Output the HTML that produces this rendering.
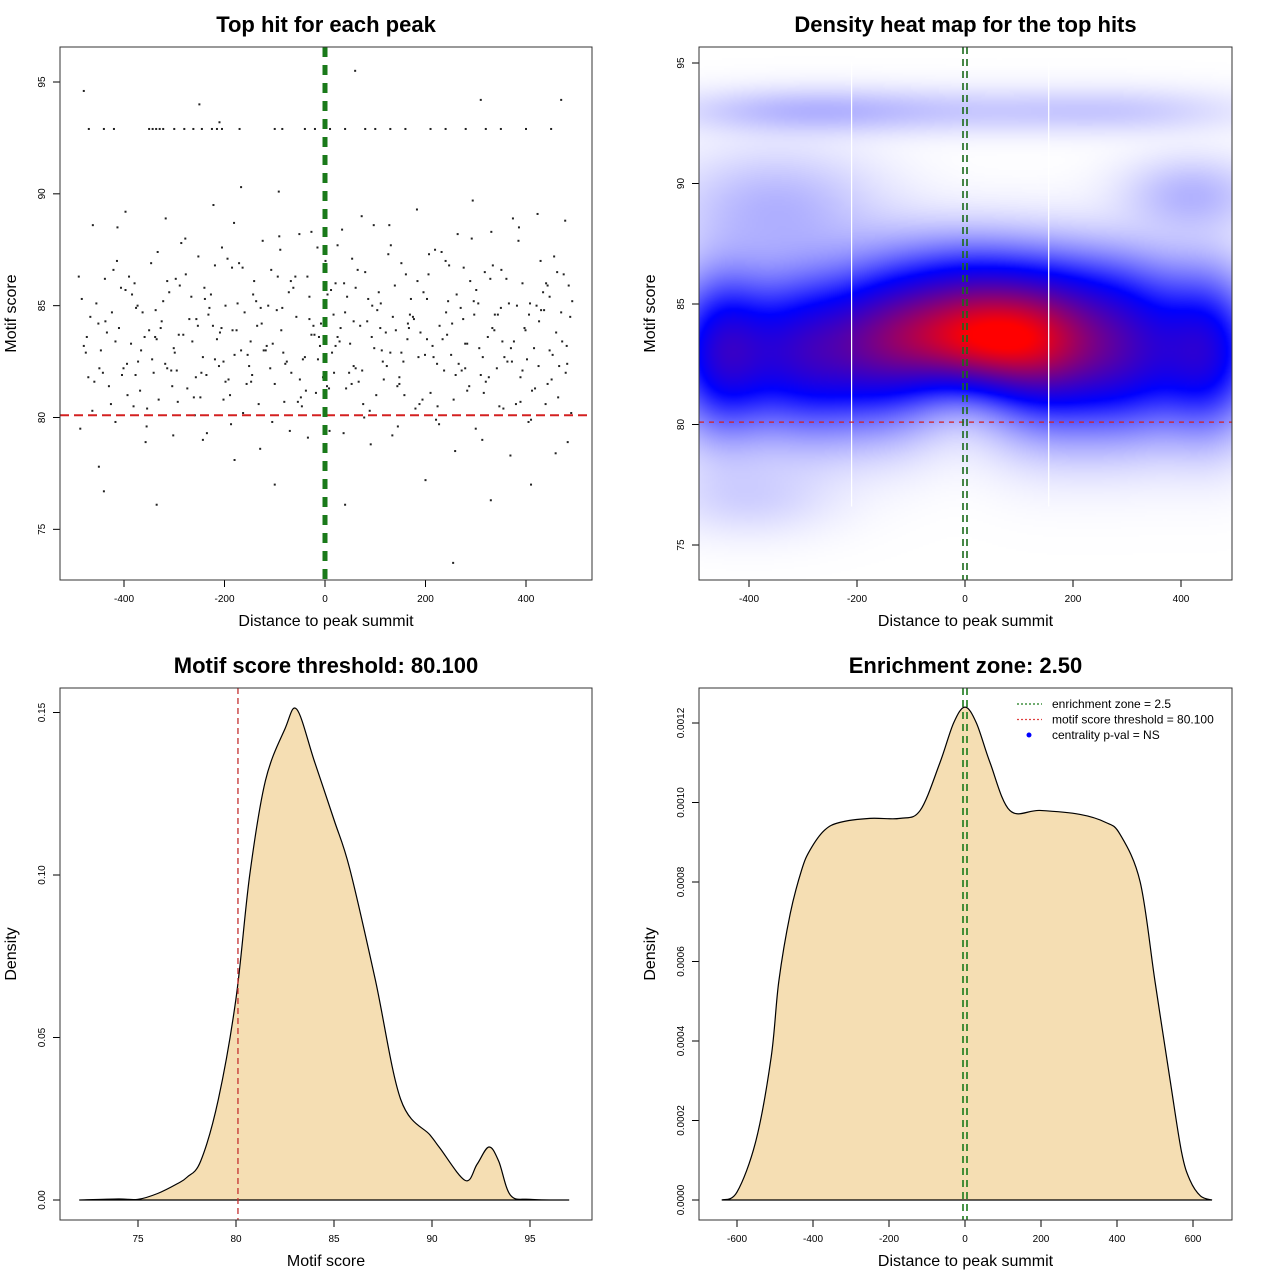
<!DOCTYPE html>
<html><head><meta charset="utf-8">
<style>
body{margin:0;background:#fff;}
#wrap{position:relative;width:1280px;height:1280px;}
#hm{position:absolute;left:699px;top:47px;width:533px;height:533px;}
svg{position:absolute;left:0;top:0;}
text{font-family:"Liberation Sans",sans-serif;}
</style></head>
<body>
<div id="wrap">
<canvas id="hm" width="266" height="266"></canvas>
<svg id="s" width="1280" height="1280" xmlns="http://www.w3.org/2000/svg"></svg>
</div>
<script>
// ---------- DATA ----------
const scatX = [-480,-455,-430,-410,-390,-372,-350,-331,-310,-295,-270,-252,-236,-215,-198,-180,-160,-141,-122,-100,-85,-63,-44,-27,-8,8,25,44,61,80,98,117,135,152,171,190,210,228,247,266,283,301,320,338,357,376,393,412,430,447,466,485,
-471,-446,-421,-401,-381,-363,-341,-322,-301,-286,-261,-243,-227,-206,-189,-171,-151,-132,-113,-91,-76,-54,-35,-18,1,17,34,53,70,89,107,126,144,161,180,199,219,237,256,275,292,310,329,347,366,385,402,421,439,456,475,490,
-487,-462,-437,-417,-397,-379,-357,-338,-317,-302,-277,-259,-243,-222,-205,-187,-167,-148,-129,-107,-92,-70,-51,-34,-15,1,18,37,54,73,91,110,128,145,164,183,203,221,240,259,276,294,313,331,350,369,386,405,423,440,459,478,
-467,-442,-417,-397,-377,-359,-337,-318,-297,-282,-257,-239,-223,-202,-185,-167,-147,-128,-109,-87,-72,-50,-31,-14,5,21,38,57,74,93,111,130,148,165,184,203,223,241,260,279,296,314,333,351,370,389,406,425,443,460,479,488,
-476,-451,-426,-406,-386,-368,-346,-327,-306,-291,-266,-248,-232,-211,-194,-176,-156,-137,-118,-96,-81,-59,-40,-23,-4,12,29,48,65,84,102,121,139,156,175,194,214,232,251,270,287,305,324,342,361,380,397,416,434,451,470,482,
-484,-459,-434,-414,-394,-376,-354,-335,-314,-299,-274,-256,-240,-219,-202,-184,-164,-145,-126,-104,-89,-67,-48,-31,-12,4,21,40,57,76,94,113,131,148,167,186,206,224,243,262,279,297,316,334,353,372,389,408,426,443,462,481,
-463,-438,-413,-393,-373,-355,-333,-314,-293,-278,-253,-235,-219,-198,-181,-163,-143,-124,-105,-83,-68,-46,-27,-10,9,25,42,61,78,97,115,134,152,169,188,207,227,245,264,283,300,318,337,355,374,393,410,429,447,464,483,-490,
-474,-449,-424,-404,-384,-366,-344,-325,-304,-289,-264,-246,-230,-209,-192,-174,-154,-135,-116,-94,-79,-57,-38,-21,-2,14,31,50,67,86,104,123,141,158,177,196,216,234,253,272,289,307,326,344,363,382,399,418,436,453,472,492,
-470,-440,-420,-350,-343,-336,-329,-322,-300,-280,-262,-245,-225,-215,-205,-170,-100,-85,-40,-20,10,40,80,100,130,160,210,240,280,320,350,400,450,
-480,-250,60,310,470,-210,-440,-335,255,-100,-450,40,330,-180,410,200];
const scatY = [83.2,85.1,81.4,84.0,86.3,82.5,83.9,80.8,85.6,82.1,84.4,87.2,81.9,83.5,85.0,82.8,84.7,86.1,83.0,81.5,84.9,85.8,82.6,83.7,84.2,81.3,83.6,85.4,82.2,86.5,83.1,81.7,84.5,82.9,85.3,83.8,81.1,84.1,86.8,82.4,83.3,85.7,81.6,84.6,82.7,83.4,86.0,81.2,84.8,83.0,82.3,85.9,
81.8,83.0,86.6,82.2,80.5,84.7,82.0,85.2,83.1,87.8,80.9,82.7,85.5,84.0,81.0,86.9,82.3,80.6,85.0,88.1,82.5,80.7,86.3,81.1,87.0,84.6,88.4,81.5,84.1,80.3,85.6,87.3,81.4,86.4,80.4,82.8,87.5,82.1,80.8,84.4,88.0,81.9,86.2,80.5,85.1,87.9,82.6,85.0,80.6,87.2,86.4,80.2,
79.5,88.6,84.3,79.8,89.2,86.0,78.9,83.6,88.9,79.2,86.4,80.1,79.0,89.5,87.6,79.7,90.3,83.4,78.6,86.6,90.1,79.4,88.2,79.1,87.6,90.8,82.0,79.3,87.1,89.0,78.8,84.0,88.6,79.6,83.5,89.3,85.3,79.9,87.0,78.5,86.7,89.7,79.0,88.3,84.9,78.3,88.5,79.8,89.1,86.0,78.4,88.8,
84.5,82.0,83.4,85.7,81.9,83.6,84.8,82.4,86.2,83.7,81.8,85.3,84.1,82.5,86.7,83.0,81.6,84.9,82.2,83.9,85.6,81.7,84.4,82.6,85.5,83.2,86.0,84.3,82.1,83.6,85.1,82.9,81.5,84.2,86.1,83.5,82.4,84.7,81.9,83.3,85.2,82.7,84.0,86.6,83.1,81.8,84.6,82.3,85.9,83.8,82.0,84.5,
82.9,84.2,80.6,85.8,83.3,81.2,86.9,84.0,82.1,83.7,85.4,80.9,84.6,82.3,87.1,83.9,81.5,85.2,83.0,84.8,80.7,86.3,82.7,84.1,81.8,85.7,83.4,82.0,86.6,84.3,81.0,83.8,85.9,82.5,84.5,80.8,83.2,87.4,82.8,84.9,81.4,85.1,83.6,82.2,86.2,80.6,84.0,83.1,85.6,81.7,84.7,82.4,
85.3,81.6,83.8,87.0,82.4,84.9,80.4,83.5,86.1,82.9,81.3,84.4,85.8,82.6,80.8,83.9,86.7,81.9,84.2,83.3,87.5,82.0,80.9,85.4,83.6,81.4,86.0,84.7,82.3,80.6,85.0,83.0,87.7,81.8,84.0,82.7,86.4,80.5,83.7,85.5,82.2,84.6,81.1,86.8,83.4,82.5,80.7,85.1,84.3,81.5,86.5,83.2,
80.3,86.2,88.5,81.0,85.0,79.6,87.4,82.2,80.7,88.0,84.1,79.3,86.8,81.6,88.7,80.2,85.5,87.9,79.8,82.9,86.1,80.5,88.3,83.2,79.4,87.7,81.3,85.8,80.0,88.6,82.5,79.2,86.9,84.6,80.6,87.3,79.7,85.2,88.2,81.2,79.5,86.5,83.9,80.4,88.9,82.1,79.9,87.0,85.4,80.9,78.9,86.3,
83.6,82.2,84.7,81.9,85.5,83.0,82.6,84.3,81.4,85.9,83.4,82.0,84.9,83.8,81.7,85.1,82.8,84.1,83.2,86.3,82.4,84.5,81.2,83.7,85.7,82.9,84.0,83.3,81.6,85.3,84.8,82.3,83.9,81.0,84.4,85.6,82.7,83.5,84.2,82.1,86.1,83.1,81.8,84.6,82.5,85.0,83.9,81.3,84.8,82.8,83.4,85.2,
92.9,92.9,92.9,92.9,92.9,92.9,92.9,92.9,92.9,92.9,92.9,92.9,92.9,92.9,92.9,92.9,92.9,92.9,92.9,92.9,92.9,92.9,92.9,92.9,92.9,92.9,92.9,92.9,92.9,92.9,92.9,92.9,92.9,
94.6,94.0,95.5,94.2,94.2,93.2,76.7,76.1,73.5,77.0,77.8,76.1,76.3,78.1,77.0,77.2];

// heatmap gaussian components (density model)
const hmCX = [30,-450,-300,-150,150,300,450,0,-300,0,300,-350,420,-400,200];
const hmCY = [83.5,83.0,83.0,83.3,83.0,83.0,83.0,85.5,93.0,93.0,93.0,89.0,89.5,77.0,85.5];
const hmSX = [110,60,80,80,80,80,60,100,150,200,150,120,80,100,120];
const hmSY = [1.3,2.0,2.0,2.0,2.0,2.0,2.0,1.4,0.6,0.6,0.6,1.5,1.0,1.0,1.3];
const hmW  = [1.0,0.5,0.5,0.5,0.5,0.5,0.45,0.35,0.07,0.04,0.04,0.08,0.08,0.04,0.15];

// motif score density
const msX = [72,74,75,76,77,77.5,78.2,79.1,80,80.7,81.5,82.5,83.1,84,85,85.8,87.1,88.4,89.9,90.4,91.7,92.3,92.9,93.4,94,95,97];
const msY = [0,0.0003,0.0002,0.002,0.005,0.007,0.012,0.031,0.062,0.10,0.129,0.145,0.151,0.135,0.117,0.102,0.068,0.031,0.02,0.016,0.006,0.011,0.0163,0.012,0.0015,0.0002,0];

// distance density
const dzX = [-640,-600,-550,-510,-490,-460,-430,-408,-370,-329,-250,-171,-118,-66,-30,0,30,66,118,197,303,370,408,461,500,540,570,592,620,650];
const dzY = [0,0.00002,0.00015,0.00036,0.00055,0.00072,0.00083,0.00088,0.00093,0.00095,0.00096,0.00096,0.00098,0.0011,0.0012,0.00124,0.0012,0.0011,0.00098,0.00098,0.00097,0.00095,0.00092,0.0008,0.00055,0.0003,0.00012,0.00005,0.00001,0];

const xTicks1 = [-400,-200,0,200,400];
const yTicks1 = [75,80,85,90,95];
const xTicks3 = [75,80,85,90,95];
const yTicks3 = [0,0.05,0.10,0.15];
const yTickLab3 = ["0.00","0.05","0.10","0.15"];
const xTicks4 = [-600,-400,-200,0,200,400,600];
const yTicks4 = [0,0.0002,0.0004,0.0006,0.0008,0.0010,0.0012];
const yTickLab4 = ["0.0000","0.0002","0.0004","0.0006","0.0008","0.0010","0.0012"];

// ---------- helpers ----------
const NS="http://www.w3.org/2000/svg";
const svg=document.getElementById('s');
function el(tag,attrs,parent){const e=document.createElementNS(NS,tag);for(const k in attrs)e.setAttribute(k,attrs[k]);(parent||svg).appendChild(e);return e;}
function lin(d0,d1,r0,r1){return v=>r0+(v-d0)*(r1-r0)/(d1-d0);}
function txt(x,y,s,size,opts,parent){const t=el('text',Object.assign({x:x,y:y,'font-size':size,'text-anchor':'middle',fill:'#000'},opts||{}),parent);t.textContent=s;return t;}

function panel(name,box,title,xlab,ylab,xs,ys,xt,xtl,yt,ytl){
  const g=el('g',{});
  
  
  const [L,T,R,B]=box;
  const ti=txt((L+R)/2,T-15,title,22,{'font-weight':'bold'},g);
  
  
  const xl=txt((L+R)/2,B+46,xlab,16,{},g);
  
  
  const yl=txt(0,0,ylab,16,{transform:`translate(${L-44},${(T+B)/2}) rotate(-90)`},g);
  
  
  const xa=el('g',{},g);
  
  
  xt.forEach((v,i)=>{const x=xs(v);el('line',{x1:x,x2:x,y1:B,y2:B+7,stroke:'#000'},xa);txt(x,B+22,xtl[i],10,{},xa);});
  const ya=el('g',{},g);
  
  
  yt.forEach((v,i)=>{const y=ys(v);el('line',{x1:L-7,x2:L,y1:y,y2:y,stroke:'#000'},ya);txt(0,0,ytl[i],10,{transform:`translate(${L-15},${y}) rotate(-90)`},ya);});
  return g;
}
function frame(g,box){const [L,T,R,B]=box;const r=el('rect',{x:L,y:T,width:R-L,height:B-T,fill:'none',stroke:'#333'},g);}

// ---------- Panel 1: scatter ----------
const b1=[60,47,592,580];
const x1=lin(0,400,325,526), y1=lin(80,95,417.5,82);
const g1=panel('scatter-panel',b1,'Top hit for each peak','Distance to peak summit','Motif score',x1,y1,xTicks1,xTicks1.map(String),yTicks1,yTicks1.map(String));
const pts=el('g',{fill:'#222'},g1);


for(let i=0;i<scatX.length;i++){el('rect',{x:x1(scatX[i])-1,y:y1(scatY[i])-1,width:2,height:2},pts);}
const r1=el('line',{x1:b1[0],x2:b1[2],y1:y1(80.1),y2:y1(80.1),stroke:'#d42020','stroke-width':2,'stroke-dasharray':'9,5'},g1);


const gr1=el('line',{x1:x1(0),x2:x1(0),y1:b1[1],y2:b1[3],stroke:'#1a7a1a','stroke-width':5,'stroke-dasharray':'10,8'},g1);


frame(g1,b1);

// ---------- Panel 2: heatmap ----------
const b2=[699,47,1232,580];
const x2=lin(0,400,965,1181), y2=lin(80,95,424.5,63);
const g2=panel('heatmap-panel',b2,'Density heat map for the top hits','Distance to peak summit','Motif score',x2,y2,xTicks1,xTicks1.map(String),yTicks1,yTicks1.map(String));
(function(){
  const c=document.getElementById('hm'),ctx=c.getContext('2d');
  const W=c.width,H=c.height,img=ctx.createImageData(W,H);
  const dx0=(b2[0]-965)/0.54, dx1=(b2[2]-965)/0.54;
  const dy0=95+(63-b2[1])/24.1, dy1=75-(b2[3]-545)/24.1;
  const vals=new Float32Array(W*H);let mx=0;
  for(let j=0;j<H;j++)for(let i=0;i<W;i++){
    const dx=dx0+(i+0.5)/W*(dx1-dx0), dy=dy0+(j+0.5)/H*(dy1-dy0);
    let d=0;for(let k=0;k<hmCX.length;k++){const a=(dx-hmCX[k])/hmSX[k],b=(dy-hmCY[k])/hmSY[k];d+=hmW[k]*Math.exp(-0.5*(a*a+b*b));}
    vals[j*W+i]=d;if(d>mx)mx=d;}
  for(let p=0;p<W*H;p++){
    let t=vals[p]/mx,r,g,b;
    if(t<0.3){const u=Math.pow(t/0.3,0.75);r=255*(1-u);g=255*(1-u);b=255;}
    else{const u=Math.min(1,(t-0.3)/0.65);r=255*u;g=0;b=255*(1-u);}
    img.data[p*4]=r;img.data[p*4+1]=g;img.data[p*4+2]=b;img.data[p*4+3]=255;}
  ctx.putImageData(img,0,0);
})();
[-210,155].forEach(v=>{const l=el('line',{x1:x2(v),x2:x2(v),y1:b2[1]+15,y2:y2(76.6),stroke:'#fff','stroke-width':1.2},g2);

});
const r2=el('line',{x1:b2[0],x2:b2[2],y1:y2(80.1),y2:y2(80.1),stroke:'#d42020','stroke-width':1.3,'stroke-dasharray':'5,5'},g2);


[-2,2].forEach(o=>{const l=el('line',{x1:x2(0)+o,x2:x2(0)+o,y1:b2[1],y2:b2[3],stroke:'#1a6a1a','stroke-width':1.6,'stroke-dasharray':'7,5'},g2);

});
frame(g2,b2);

// ---------- Panel 3: motif density ----------
const b3=[60,688,592,1220];
const x3=lin(75,95,138,530), y3=lin(0,0.15,1200,712.5);
const g3=panel('motif-density-panel',b3,'Motif score threshold: 80.100','Motif score','Density',x3,y3,xTicks3,xTicks3.map(String),yTicks3,yTickLab3);
function curvePath(xs,ys,X,Y){
  const P=X.map((v,i)=>[xs(v),ys(Y[i])]);let d=`M${P[0][0]},${P[0][1]}`;
  for(let i=0;i<P.length-1;i++){const p0=P[Math.max(0,i-1)],p1=P[i],p2=P[i+1],p3=P[Math.min(P.length-1,i+2)];
    d+=`C${p1[0]+(p2[0]-p0[0])/6},${p1[1]+(p2[1]-p0[1])/6} ${p2[0]-(p3[0]-p1[0])/6},${p2[1]-(p3[1]-p1[1])/6} ${p2[0]},${p2[1]}`;}
  return d;}
const c3=curvePath(x3,y3,msX,msY);
const f3=el('path',{d:c3+'Z',fill:'#f5deb3',stroke:'#000','stroke-width':1.2},g3);


const r3=el('line',{x1:x3(80.1),x2:x3(80.1),y1:b3[1],y2:b3[3],stroke:'#c43030','stroke-width':1.3,'stroke-dasharray':'6,4'},g3);


frame(g3,b3);

// ---------- Panel 4: distance density ----------
const b4=[699,688,1232,1220];
const x4=lin(0,600,965,1193), y4=lin(0,0.0012,1200,723);
const g4=panel('distance-density-panel',b4,'Enrichment zone: 2.50','Distance to peak summit','Density',x4,y4,xTicks4,xTicks4.map(String),yTicks4,yTickLab4);
const c4=curvePath(x4,y4,dzX,dzY);
const f4=el('path',{d:c4+'Z',fill:'#f5deb3',stroke:'#000','stroke-width':1.2},g4);


[-2,2].forEach(o=>{const l=el('line',{x1:x4(0)+o,x2:x4(0)+o,y1:b4[1],y2:b4[3],stroke:'#1a7a1a','stroke-width':1.6,'stroke-dasharray':'7,5'},g4);

});
const lg=el('g',{},g4);


const legItems=[['enrichment zone = 2.5','#1a7a1a','line'],['motif score threshold = 80.100','#e04040','line'],['centrality p-val = NS','#0000ff','dot']];
legItems.forEach((it,i)=>{const y=704+i*15.5;
  const e=el('g',{},lg);
  
  
  if(it[2]==='line')el('line',{x1:1017,x2:1042,y1:y,y2:y,stroke:it[1],'stroke-width':1.2,'stroke-dasharray':'2,2'},e);
  else el('circle',{cx:1029,cy:y,r:2.5,fill:it[1]},e);
  txt(1052,y+4,it[0],12,{'text-anchor':'start'},e);});
frame(g4,b4);
</script>
</body></html>
